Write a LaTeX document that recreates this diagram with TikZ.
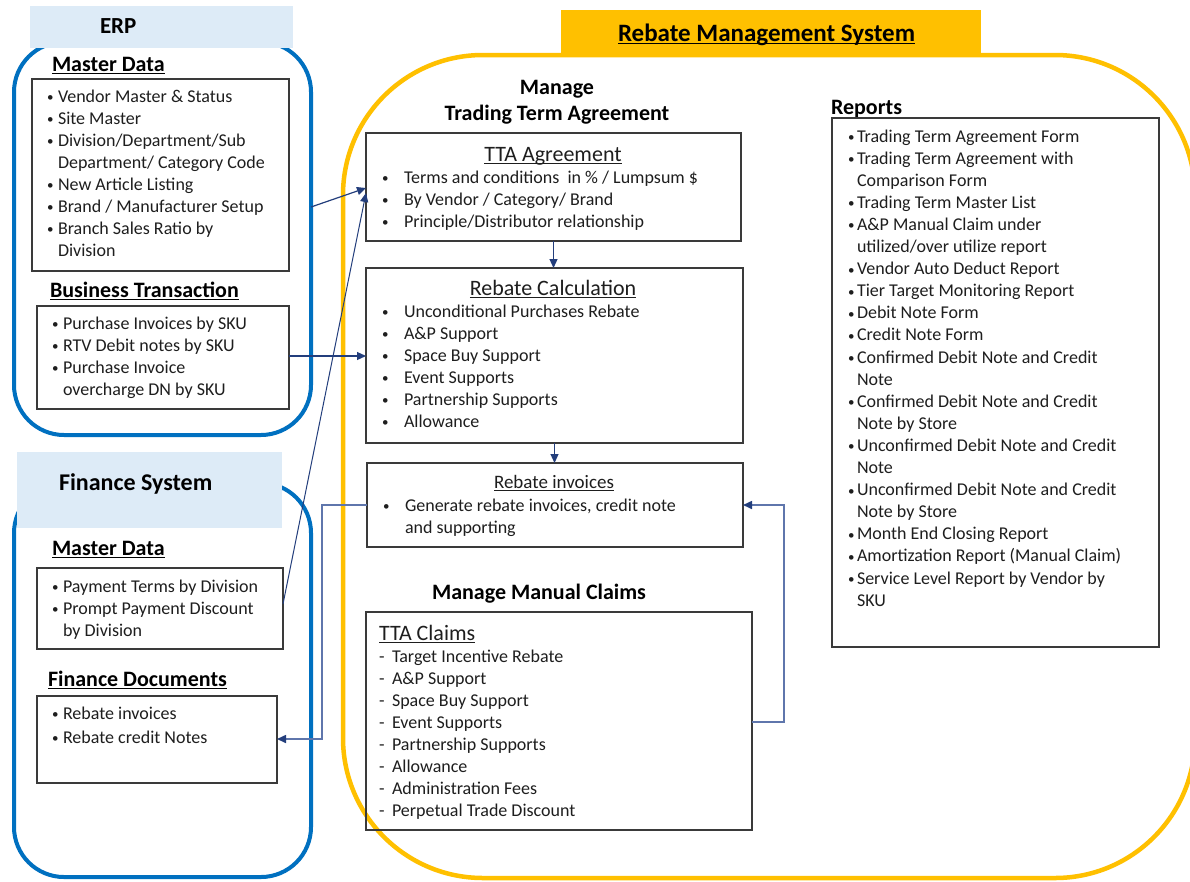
\documentclass[tikz,border=0pt]{standalone}
\usepackage{fontspec}
\setmainfont{Carlito}
\usetikzlibrary{arrows.meta}
\definecolor{erpblue}{HTML}{0070C0}
\definecolor{hdrblue}{HTML}{DDEBF7}
\definecolor{gold}{HTML}{FFC000}
\definecolor{navy}{HTML}{233E7C}
\definecolor{elbow}{HTML}{5F76AC}
\definecolor{boxgray}{HTML}{3A3A3A}
\definecolor{txt}{HTML}{1E1E1E}
\newcommand{\ulx}[1]{\setbox0\hbox{#1}\rlap{\rule[-2.6pt]{\wd0}{1.1pt}}\box0}
\newcommand{\bul}[1]{\makebox[#1][l]{\raisebox{0.5pt}{\fontsize{13}{13}\selectfont\textbullet}}}
\begin{document}
\begin{tikzpicture}[x=1pt,y=-1pt,
  frame/.style={draw, line width=4pt, inner sep=0pt, outer sep=0pt, anchor=north west},
  hdr/.style={draw=none, inner sep=0pt, outer sep=0pt, anchor=north west},
  box/.style={draw=boxgray, line width=1.4pt, inner sep=0pt, outer sep=0pt, anchor=north west},
  lst/.style={anchor=base west, inner sep=0pt, outer sep=0pt, text=txt, font=\fontsize{18}{22}\selectfont},
  hd/.style={anchor=base west, inner sep=0pt, outer sep=0pt, text=black, font=\bfseries\fontsize{22}{26}\selectfont},
  ttl/.style={anchor=base, inner sep=0pt, outer sep=0pt, text=txt, font=\fontsize{22}{26}\selectfont},
  arr/.style={draw=navy, line width=1.2pt, -{Triangle[length=9pt,width=8pt,color=navy]}},
  elb/.style={draw=elbow, line width=1.6pt, -{Triangle[length=9pt,width=8pt,color=navy]}},
]
\useasboundingbox (0,0) rectangle (1190,881);
\fill[white] (0,0) rectangle (1190,881);

% ---------- frames ----------
\node[frame, draw=erpblue, rounded corners=50pt, minimum width=297pt, minimum height=393pt] (erp) at (14,42) {};
\node[frame, draw=erpblue, rounded corners=50pt, minimum width=297pt, minimum height=394pt] (fin) at (14,483) {};
\node[frame, draw=gold, line width=4.5pt, rounded corners=140pt, minimum width=852pt, minimum height=823pt] (rms) at (343,55) {};

% ---------- headers ----------
\node[hdr, fill=hdrblue, minimum width=263pt, minimum height=42pt] (erph) at (30,6) {};
\node[hd, font=\bfseries\fontsize{23}{26}\selectfont] (erpt) at (100,33) {ERP};
\node[hdr, fill=hdrblue, minimum width=265pt, minimum height=76pt] (finh) at (17,452) {};
\node[hd, font=\bfseries\fontsize{24}{26}\selectfont] (fint) at (59,490) {Finance System};
\node[hdr, fill=gold, minimum width=420pt, minimum height=43pt] (rmsh) at (561,10) {};
\node[hd, font=\bfseries\fontsize{25}{28}\selectfont] (rmst) at (618,41) {\ulx{Rebate Management System}};

% ---------- ERP ----------
\node[hd] (md1) at (52,71) {\ulx{Master Data}};
\node[box, minimum width=257pt, minimum height=192pt] (mdbox) at (32,79) {};
\node[lst] (mdl) at (47,102) {\begin{tabular}[t]{@{}l@{}l@{}}
\bul{11pt} & Vendor Master \& Status\\
\bul{11pt} & Site Master\\
\bul{11pt} & Division/Department/Sub\\
 & Department/ Category Code\\
\bul{11pt} & New Article Listing\\
\bul{11pt} & Brand / Manufacturer Setup\\
\bul{11pt} & Branch Sales Ratio by\\
 & Division
\end{tabular}};
\node[hd] (bt) at (50,297) {\ulx{Business Transaction}};
\node[box, minimum width=252pt, minimum height=103pt] (btbox) at (37,306) {};
\node[lst] (btl) at (52,329) {\begin{tabular}[t]{@{}l@{}l@{}}
\bul{11pt} & Purchase Invoices by SKU\\
\bul{11pt} & RTV Debit notes by SKU\\
\bul{11pt} & Purchase Invoice\\
 & overcharge DN by SKU
\end{tabular}};

% ---------- Finance ----------
\node[hd] (md2) at (52,555) {\ulx{Master Data}};
\node[box, minimum width=246pt, minimum height=81pt] (fmbox) at (37,568) {};
\node[lst] (fml) at (52,592) {\begin{tabular}[t]{@{}l@{}l@{}}
\bul{11pt} & Payment Terms by Division\\
\bul{11pt} & Prompt Payment Discount\\
 & by Division
\end{tabular}};
\node[hd] (fd) at (48,686) {\ulx{Finance Documents}};
\node[box, minimum width=240pt, minimum height=87pt] (fdbox) at (37,696) {};
\node[lst] (fdl) at (52,719) {\begin{tabular}[t]{@{}l@{}l@{}}
\bul{11pt} & Rebate invoices\\[2pt]
\bul{11pt} & Rebate credit Notes
\end{tabular}};

% ---------- Rebate Management System ----------
\node[hd, anchor=base] (mg1) at (557,94) {Manage};
\node[hd, anchor=base] (mg2) at (557,120) {Trading Term Agreement};
\node[box, minimum width=375pt, minimum height=108pt] (tta) at (366,133) {};
\node[ttl] (ttat) at (553,161) {\ulx{TTA Agreement}};
\node[lst] (ttal) at (382,183) {\begin{tabular}[t]{@{}l@{}l@{}}
\bul{22pt} & Terms and conditions\ \ in \% / Lumpsum \$\\
\bul{22pt} & By Vendor / Category/ Brand\\
\bul{22pt} & Principle/Distributor relationship
\end{tabular}};

\node[box, minimum width=377pt, minimum height=175pt] (calc) at (366,268) {};
\node[ttl] (calct) at (553,295) {\ulx{Rebate Calculation}};
\node[lst] (calcl) at (382,317) {\begin{tabular}[t]{@{}l@{}l@{}}
\bul{22pt} & Unconditional Purchases Rebate\\
\bul{22pt} & A\&P Support\\
\bul{22pt} & Space Buy Support\\
\bul{22pt} & Event Supports\\
\bul{22pt} & Partnership Supports\\
\bul{22pt} & Allowance
\end{tabular}};

\node[box, minimum width=376pt, minimum height=84pt] (inv) at (367,463) {};
\node[ttl, font=\fontsize{19}{22}\selectfont] (invt) at (554,488) {\ulx{Rebate invoices}};
\node[lst] (invl) at (383,511) {\begin{tabular}[t]{@{}l@{}l@{}}
\bul{22pt} & Generate rebate invoices, credit note\\
 & and supporting
\end{tabular}};

\node[hd, anchor=base] (mmc) at (539,599) {Manage Manual Claims};
\node[box, minimum width=386pt, minimum height=218pt] (claims) at (366,612) {};
\node[ttl, anchor=base west] (clt) at (379,640) {\ulx{TTA Claims}};
\node[lst] (cll) at (379,662) {\begin{tabular}[t]{@{}l@{}l@{}}
\makebox[13pt][l]{-} & Target Incentive Rebate\\
\makebox[13pt][l]{-} & A\&P Support\\
\makebox[13pt][l]{-} & Space Buy Support\\
\makebox[13pt][l]{-} & Event Supports\\
\makebox[13pt][l]{-} & Partnership Supports\\
\makebox[13pt][l]{-} & Allowance\\
\makebox[13pt][l]{-} & Administration Fees\\
\makebox[13pt][l]{-} & Perpetual Trade Discount
\end{tabular}};

\node[hd] (rep) at (831,114) {Reports};
\node[box, minimum width=327pt, minimum height=529pt] (repbox) at (832,118) {};
\node[lst, font=\fontsize{18}{22.1}\selectfont] (repl) at (848,142) {\begin{tabular}[t]{@{}l@{}l@{}}
\bul{9pt} & Trading Term Agreement Form\\
\bul{9pt} & Trading Term Agreement with\\
 & Comparison Form\\
\bul{9pt} & Trading Term Master List\\
\bul{9pt} & A\&P Manual Claim under\\
 & utilized/over utilize report\\
\bul{9pt} & Vendor Auto Deduct Report\\
\bul{9pt} & Tier Target Monitoring Report\\
\bul{9pt} & Debit Note Form\\
\bul{9pt} & Credit Note Form\\
\bul{9pt} & Confirmed Debit Note and Credit\\
 & Note\\
\bul{9pt} & Confirmed Debit Note and Credit\\
 & Note by Store\\
\bul{9pt} & Unconfirmed Debit Note and Credit\\
 & Note\\
\bul{9pt} & Unconfirmed Debit Note and Credit\\
 & Note by Store\\
\bul{9pt} & Month End Closing Report\\
\bul{9pt} & Amortization Report (Manual Claim)\\
\bul{9pt} & Service Level Report by Vendor by\\
 & SKU
\end{tabular}};

% ---------- connectors ----------
\draw[arr] (erp.east |- 0,207) -- (tta.west |- 0,188);
\draw[arr, line width=1pt] (fmbox.east |- 0,604) -- (tta.west |- 0,193);
\draw[arr] (btbox.east |- 0,356) -- (calc.west |- 0,356);
\draw[arr] (tta.south) -- (tta.south |- calc.north);
\draw[arr] (calc.south) -- (calc.south |- inv.north);
\draw[elb] (inv.west |- 0,505) -| (322,739) -- (fdbox.east |- 0,739);
\draw[elb] (claims.east |- 0,722) -| (784,505) -- (inv.east |- 0,505);
\end{tikzpicture}
\end{document}
